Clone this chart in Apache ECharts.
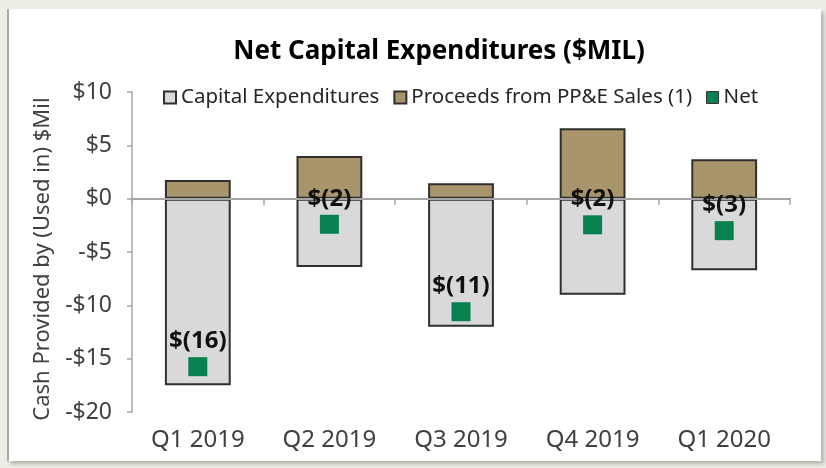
<!DOCTYPE html>
<html>
<head>
<meta charset="utf-8">
<script src="https://cdn.jsdelivr.net/npm/echarts@6/dist/echarts.min.js"></script>
<style>
  html, body { margin: 0; padding: 0; }
  body { width: 826px; height: 468px; background: #efeee6; position: relative; overflow: hidden; }
  .panel {
    position: absolute; left: 7px; top: 9px; width: 812px; height: 452px;
    background: #fff; border-left: 2px solid #a9a9a4;
    box-shadow: 3px 3px 4px rgba(0,0,0,0.25);
  }
  #chart { position: absolute; left: 0; top: 0; width: 826px; height: 468px; }
</style>
</head>
<body>
<div class="panel"></div>
<div id="chart"></div>
<script>
// 数据
const categories = ['Q1 2019', 'Q2 2019', 'Q3 2019', 'Q4 2019', 'Q1 2020']
const capex = [-17.5, -6.4, -12.0, -9.0, -6.7]
const proceeds = [1.75, 4.0, 1.45, 6.6, 3.7]
const net = [-15.75, -2.4, -10.6, -2.45, -3.0]

const font = '"Noto Sans", "Open Sans", sans-serif'
const chart = echarts.init(document.getElementById('chart'), null, { renderer: 'canvas' })

chart.setOption({
  backgroundColor: 'transparent',
  animation: false,
  textStyle: { fontFamily: font },
  title: {
    text: 'Net Capital Expenditures ($MIL)',
    left: 434,
    textAlign: 'center',
    top: 34,
    textStyle: { fontFamily: font, fontSize: 26, fontWeight: 'bold', color: '#000' }
  },
  legend: {
    left: 158,
    top: 82,
    itemWidth: 12,
    itemHeight: 12,
    itemGap: 14,
    textStyle: { fontFamily: font, fontSize: 20.5, color: '#262626', padding: [0, 0, 0, 0] },
    data: [
      { name: 'Capital Expenditures', icon: 'rect' },
      { name: 'Proceeds from PP&E Sales (1)', icon: 'rect' },
      { name: 'Net', icon: 'rect', itemStyle: { borderColor: '#333', borderWidth: 1 } }
    ]
  },
  grid: { left: 132, right: 36, top: 92, bottom: 56 },
  xAxis: [
    {
      type: 'category',
      data: categories,
      position: 'bottom',
      z: 4,
      axisLine: { onZero: true, lineStyle: { color: '#a6a6a6', width: 2 } },
      axisTick: { show: true, length: 6, lineStyle: { color: '#a6a6a6', width: 1.5 } },
      axisLabel: { show: false }
    },
    {
      type: 'category',
      data: categories,
      position: 'bottom',
      axisLine: { show: false },
      axisTick: { show: false },
      axisLabel: { show: true, fontFamily: font, fontSize: 24, color: '#404040', margin: 16 }
    }
  ],
  yAxis: {
    type: 'value',
    min: -20,
    max: 10,
    interval: 5,
    name: 'Cash Provided by (Used in) $Mil',
    nameLocation: 'middle',
    nameRotate: 90,
    nameGap: 73,
    nameTextStyle: { fontFamily: font, fontSize: 22, color: '#404040', padding: [0, 0, 0, -14] },
    axisLine: { show: true, lineStyle: { color: '#a6a6a6', width: 1.5 } },
    axisTick: { show: true, length: 5, lineStyle: { color: '#a6a6a6', width: 1.5 } },
    splitLine: { show: false },
    axisLabel: {
      fontFamily: font,
      fontSize: 23,
      color: '#404040',
      margin: 20,
      formatter: v => (v < 0 ? '-$' + (-v) : '$' + v)
    }
  },
  series: [
    {
      name: 'Capital Expenditures',
      type: 'bar',
      stack: 'total',
      barWidth: '50%',
      data: capex,
      itemStyle: { color: '#d9d9d9', borderColor: '#2f2f2f', borderWidth: 2 }
    },
    {
      name: 'Proceeds from PP&E Sales (1)',
      type: 'bar',
      stack: 'total',
      barWidth: '50%',
      data: proceeds,
      itemStyle: { color: '#a8956b', borderColor: '#2f2f2f', borderWidth: 2 }
    },
    {
      name: 'Net',
      type: 'scatter',
      symbol: 'rect',
      symbolSize: 19,
      data: net,
      z: 5,
      itemStyle: { color: '#07814f', opacity: 1 },
      label: {
        show: true,
        position: 'top',
        distance: 4,
        fontFamily: font,
        fontSize: 24,
        fontWeight: 'bold',
        color: '#111',
        formatter: p => '$(' + Math.round(-p.value) + ')'
      }
    }
  ]
})
</script>
</body>
</html>
